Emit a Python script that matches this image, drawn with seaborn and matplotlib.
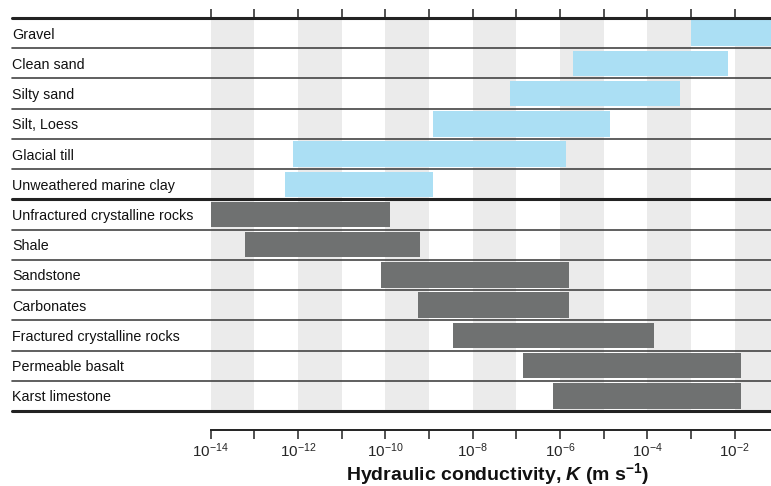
import numpy as np
import pandas as pd
import matplotlib
matplotlib.use("Agg")
import matplotlib.pyplot as plt
import seaborn as sns
from matplotlib.lines import Line2D
from matplotlib.transforms import blended_transform_factory

# ---- data (log10 of hydraulic conductivity, m/s) ----
soil_names = ["Gravel", "Clean sand", "Silty sand", "Silt, Loess",
              "Glacial till", "Unweathered marine clay"]
soil_low = [-3.0, -5.7, -7.15, -8.9, -12.1, -12.3]
soil_high = [0.0, -2.15, -3.25, -4.85, -5.85, -8.9]

rock_names = ["Unfractured crystalline rocks", "Shale", "Sandstone", "Carbonates",
              "Fractured crystalline rocks", "Permeable basalt", "Karst limestone"]
rock_low = [-14.0, -13.2, -10.1, -9.25, -8.45, -6.85, -6.15]
rock_high = [-9.9, -9.2, -5.8, -5.8, -3.85, -1.85, -1.85]

tick_exponents = list(range(-14, -1))
label_exponents = list(range(-14, -1, 2))
xlabel_text = "Hydraulic conductivity, $\\mathbfit{K}$ (m s$^{\\mathbf{-1}}$)"

# ---- style ----
sns.set_theme(style="white")
plt.rcParams["font.family"] = ["Liberation Sans", "DejaVu Sans"]
plt.rcParams["mathtext.fontset"] = "custom"
plt.rcParams["mathtext.rm"] = "Liberation Sans"
plt.rcParams["mathtext.it"] = "Liberation Sans:italic"
plt.rcParams["mathtext.bf"] = "Liberation Sans:bold"
plt.rcParams["mathtext.bfit"] = "Liberation Sans:italic:bold"

W, H = 771, 486
fig = plt.figure(figsize=(W / 100, H / 100), dpi=100)
x0_px, top_px, bot_px = 210.5, 18, 411
px_per_dec = 43.67
ax = fig.add_axes([x0_px / W, 1 - bot_px / H, (W - x0_px) / W, (bot_px - top_px) / H])

all_names = soil_names + rock_names
soil_df = pd.DataFrame({"name": soil_names, "low": soil_low, "high": soil_high})
rock_df = pd.DataFrame({"name": rock_names, "low": rock_low, "high": rock_high})

# stripes on odd decades
for e in label_exponents:
    ax.axvspan(e, e + 1, color="#ebebeb", lw=0, zorder=0)

for df, col in [(soil_df, "#abdff4"), (rock_df, "#6f7171")]:
    sns.barplot(x=df["high"] - df["low"], y=df["name"], order=all_names,
                left=df["low"].tolist(), color=col, saturation=1, width=0.84,
                orient="y", errorbar=None, linewidth=0, ax=ax, zorder=2)

ax.set_xlim(-14, -14 + (W - x0_px) / px_per_dec)
ax.set_ylim(len(all_names) - 0.5, -0.5)

# row separator lines spanning into the label area
tr = blended_transform_factory(fig.transFigure, ax.transData)
for i in range(len(all_names) + 1):
    y = i - 0.5
    thick = i in (0, len(soil_names), len(all_names))
    ax.add_artist(Line2D([12 / W, 1.0], [y, y], transform=tr, clip_on=False,
                         color="#222222" if thick else "#444444",
                         lw=2.2 if thick else 1.2, zorder=5))

# y labels (left aligned at x=12 px)
ax.set_ylabel("")
ax.tick_params(axis="y", length=0, pad=(x0_px - 12) * 0.72)
for lab in ax.get_yticklabels():
    lab.set_ha("left")
    lab.set_fontsize(10.3)
    lab.set_color("#111111")

# x axis
ax.set_xlabel("")
ax.set_xticks(tick_exponents)
ax.set_xticklabels([f"$10^{{{e}}}$" if e in label_exponents else "" for e in tick_exponents],
                   fontsize=11, color="#333333")
ax.tick_params(axis="x", top=True, bottom=True, labeltop=False, direction="out",
               length=6.5, width=1.1, color="#222222", pad=2)
for s in ["left", "right", "top"]:
    ax.spines[s].set_visible(False)
ax.spines["bottom"].set_position(("outward", (429.5 - bot_px) * 0.72))
ax.spines["bottom"].set_color("#222222")
ax.spines["bottom"].set_linewidth(1.4)

fig.text(497.5 / W, 1 - 474 / H, xlabel_text, ha="center", va="center",
         fontsize=14, fontweight="bold", color="#111111")

fig.savefig("out.png", dpi=100, facecolor="white")
